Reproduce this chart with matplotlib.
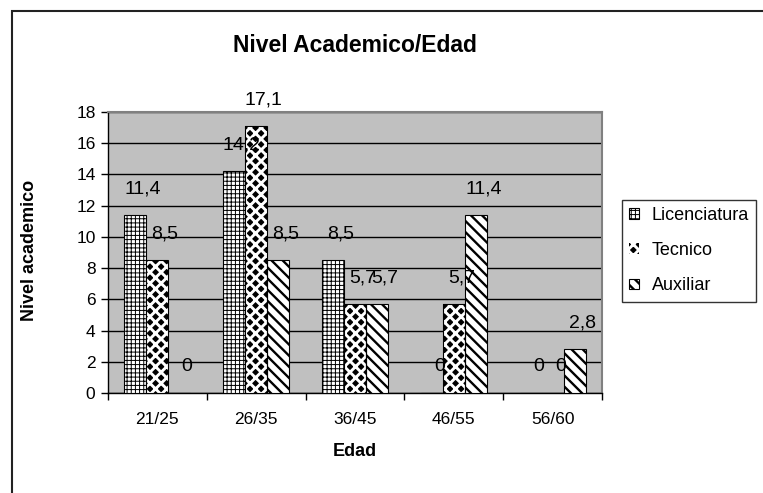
import matplotlib
matplotlib.use("Agg")
import matplotlib.pyplot as plt
import numpy as np
from matplotlib.patches import Rectangle

categories = ["21/25", "26/35", "36/45", "46/55", "56/60"]
licenciatura = [11.4, 14.2, 8.5, 0, 0]
tecnico = [8.5, 17.1, 5.7, 5.7, 0]
auxiliar = [0, 8.5, 5.7, 11.4, 2.8]
series_names = ["Licenciatura", "Tecnico", "Auxiliar"]
value_labels = [
    ["11,4", "14,2", "8,5", "0", "0"],
    ["8,5", "17,1", "5,7", "5,7", "0"],
    ["0", "8,5", "5,7", "11,4", "2,8"],
]
yticks = [0, 2, 4, 6, 8, 10, 12, 14, 16, 18]

plt.rcParams["font.family"] = ["Liberation Sans", "DejaVu Sans"]


def hatch_width(artist, lw):
    """Draw an artist with its own hatch line width."""
    orig_draw = artist.draw

    def draw(renderer):
        with plt.rc_context({"hatch.linewidth": lw}):
            orig_draw(renderer)

    artist.draw = draw
    if hasattr(artist, "set_hatch_linewidth"):
        artist.set_hatch_linewidth(lw)


fig = plt.figure(figsize=(7.63, 4.93), dpi=100)
fig.patch.set_facecolor("white")
ax = fig.add_axes([108 / 763, 1 - 393 / 493, 494 / 763, 281 / 493])
ax.set_facecolor("#C0C0C0")

x = np.arange(len(categories))
w = 1 / 4.5
hatch_lws = [0.7, 2.1, 1.7]

# Licenciatura: fine square grid
b1 = ax.bar(x - w, licenciatura, w, facecolor="white", edgecolor="black",
            hatch="++++", linewidth=0.8, zorder=3, label=series_names[0])
# Tecnico: black diamonds (white diagonal lattice on black)
b2 = ax.bar(x, tecnico, w, facecolor="black", edgecolor="white",
            hatch="xxx", linewidth=0, zorder=3, label=series_names[1])
ax.bar(x, tecnico, w, fill=False, edgecolor="black", linewidth=0.8, zorder=4)
# Auxiliar: bold diagonal stripes
b3 = ax.bar(x + w, auxiliar, w, facecolor="white", edgecolor="black",
            hatch="\\\\\\", linewidth=0.8, zorder=3, label=series_names[2])

for bars, lw in zip([b1, b2, b3], hatch_lws):
    for p in bars:
        hatch_width(p, lw)

for offs, vals, labs in zip([-w, 0, w], [licenciatura, tecnico, auxiliar], value_labels):
    for xi, v, t in zip(x, vals, labs):
        ax.annotate(t, (xi + offs, v), xytext=(5.5, 19), textcoords="offset points",
                    ha="center", va="center", fontsize=14, color="black",
                    zorder=6, annotation_clip=False)

ax.set_xlim(-0.5, len(categories) - 0.5)
ax.set_ylim(0, 18)
ax.set_yticks(yticks)
ax.set_yticklabels([str(t) for t in yticks], fontsize=12.5)
ax.yaxis.grid(True, color="black", linewidth=1.0, zorder=1)
ax.set_axisbelow(True)

ax.set_xticks(x)
ax.set_xticklabels(categories, fontsize=12.5)
ax.set_xticks(np.arange(len(categories) + 1) - 0.5, minor=True)
ax.tick_params(axis="x", which="major", length=0, pad=14)
ax.tick_params(axis="x", which="minor", length=5, width=1, direction="out")
ax.tick_params(axis="y", length=5, width=1, direction="out", pad=4)

for s in ["left", "bottom"]:
    ax.spines[s].set_color("black")
    ax.spines[s].set_linewidth(1.0)
for s in ["top", "right"]:
    ax.spines[s].set_color("#808080")
    ax.spines[s].set_linewidth(1.5)

fig.text(355 / 763, 1 - 45 / 493, "Nivel Academico/Edad", ha="center", va="center",
         fontsize=16.5, fontweight="bold")
fig.text(355 / 763, 1 - 452 / 493, "Edad", ha="center", va="center",
         fontsize=13, fontweight="bold")
fig.text(30 / 763, 1 - 250 / 493, "Nivel academico", ha="center", va="center",
         rotation=90, fontsize=13, fontweight="bold")

leg = fig.legend(handles=[b1, b2, b3], labels=series_names,
                 loc="upper left", bbox_to_anchor=(622 / 763, 1 - 200 / 493),
                 frameon=True, fancybox=False, fontsize=13,
                 handlelength=0.55, handleheight=0.55, handletextpad=0.7,
                 labelspacing=1.0, borderpad=0.4, borderaxespad=0)
leg.get_frame().set_edgecolor("black")
leg.get_frame().set_linewidth(1.0)
for h, lw in zip(leg.legend_handles, hatch_lws):
    hatch_width(h, lw)

# outer chart border (left and top edges)
fig.add_artist(Rectangle((11.5 / 763, -0.2), 1.5, 1.2 - 10.5 / 493,
                         transform=fig.transFigure, fill=False,
                         edgecolor="#222222", linewidth=1.5, clip_on=False))

fig.savefig("out.png", dpi=100, facecolor="white")
